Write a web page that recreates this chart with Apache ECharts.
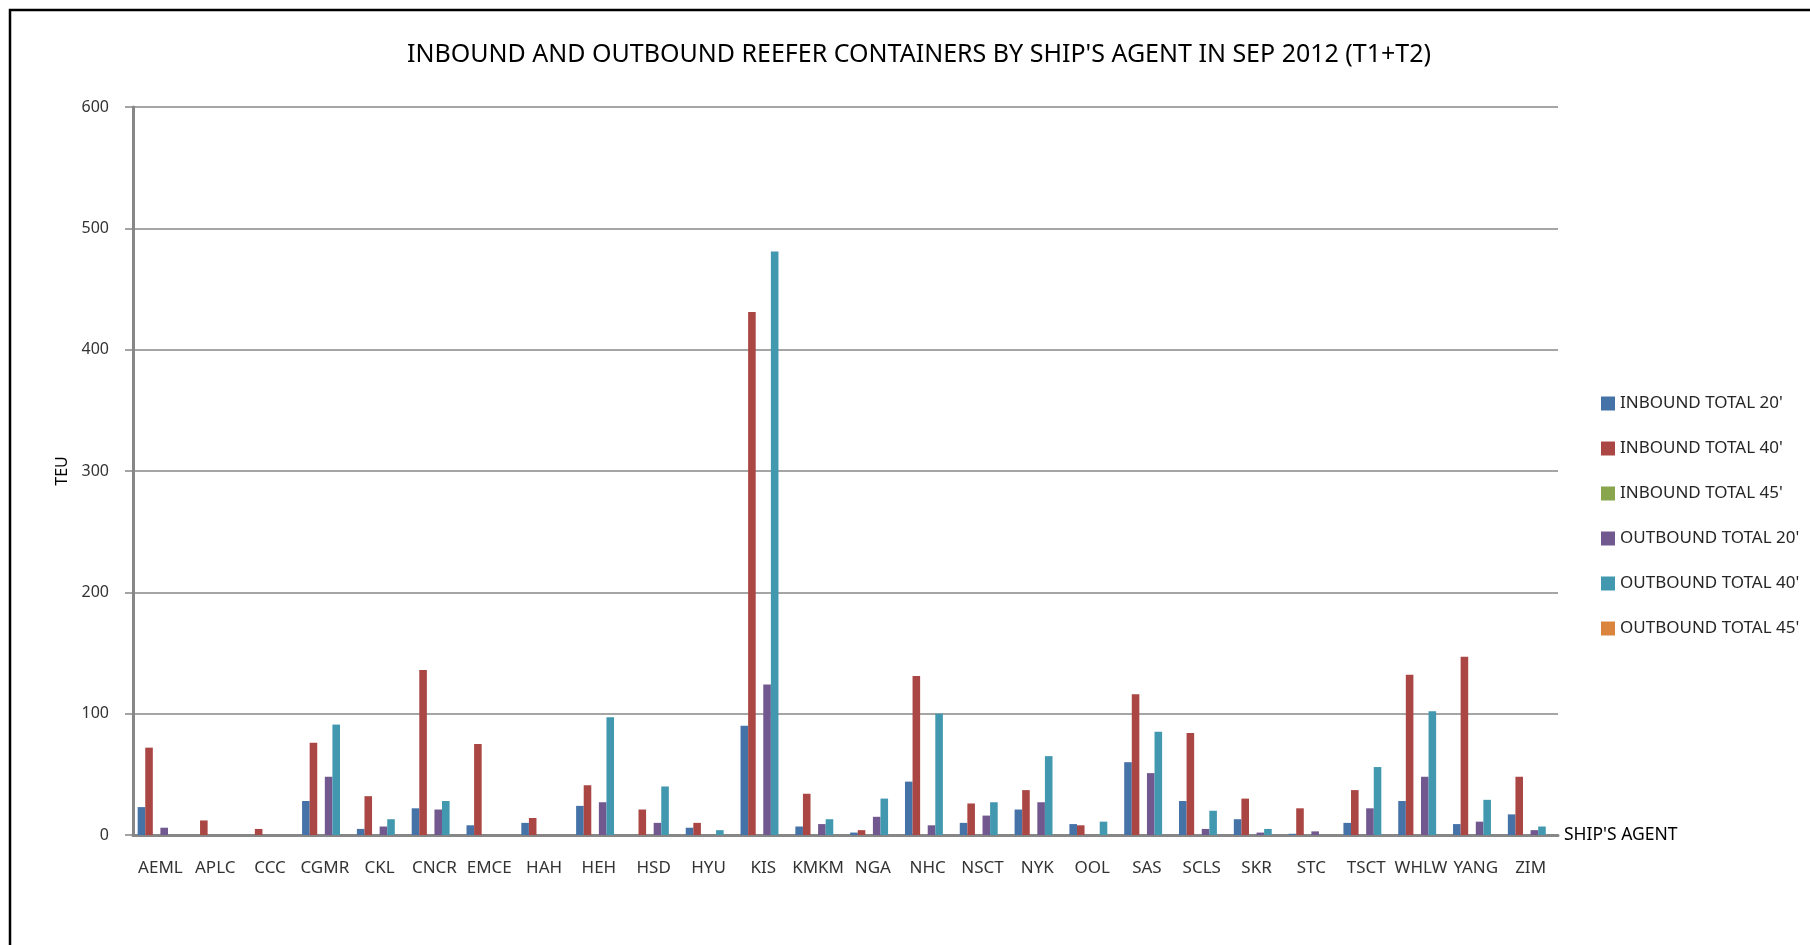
<!DOCTYPE html>
<html>
<head>
<meta charset="utf-8">
<title>Reefer containers by ship's agent, Sep 2012</title>
<script src="https://cdn.jsdelivr.net/npm/echarts@6/dist/echarts.min.js"></script>
<style>
  html, body { margin: 0; padding: 0; background: #ffffff; }
  #chart { width: 1810px; height: 945px; }
</style>
</head>
<body>
<div id="chart"></div>
<script>
// Ship's agents (x-axis categories)
const agents = ['AEML', 'APLC', 'CCC', 'CGMR', 'CKL', 'CNCR', 'EMCE', 'HAH', 'HEH', 'HSD',
  'HYU', 'KIS', 'KMKM', 'NGA', 'NHC', 'NSCT', 'NYK', 'OOL', 'SAS', 'SCLS',
  'SKR', 'STC', 'TSCT', 'WHLW', 'YANG', 'ZIM'];

// TEU per agent, one array per series
const inbound20 = [23, 0, 0, 28, 5, 22, 8, 10, 24, 0, 6, 90, 7, 2, 44, 10, 21, 9, 60, 28, 13, 1, 10, 28, 9, 17];
const inbound40 = [72, 12, 5, 76, 32, 136, 75, 14, 41, 21, 10, 431, 34, 4, 131, 26, 37, 8, 116, 84, 30, 22, 37, 132, 147, 48];
const inbound45 = [0, 0, 0, 0, 0, 0, 0, 0, 0, 0, 0, 0, 0, 0, 0, 0, 0, 0, 0, 0, 0, 0, 0, 0, 0, 0];
const outbound20 = [6, 0, 0, 48, 7, 21, 0, 0, 27, 10, 0, 124, 9, 15, 8, 16, 27, 0, 51, 5, 2, 3, 22, 48, 11, 4];
const outbound40 = [0, 0, 0, 91, 13, 28, 0, 0, 97, 40, 4, 481, 13, 30, 100, 27, 65, 11, 85, 20, 5, 0, 56, 102, 29, 7];
const outbound45 = [0, 0, 0, 0, 0, 0, 0, 0, 0, 0, 0, 0, 0, 0, 0, 0, 0, 0, 0, 0, 0, 0, 0, 0, 0, 0];

// Y-axis ticks
const yTicks = [0, 100, 200, 300, 400, 500, 600];

const seriesDefs = [
  { name: "INBOUND TOTAL 20'", data: inbound20, color: '#4572A7' },
  { name: "INBOUND TOTAL 40'", data: inbound40, color: '#AA4643' },
  { name: "INBOUND TOTAL 45'", data: inbound45, color: '#89A54E' },
  { name: "OUTBOUND TOTAL 20'", data: outbound20, color: '#71588F' },
  { name: "OUTBOUND TOTAL 40'", data: outbound40, color: '#4198AF' },
  { name: "OUTBOUND TOTAL 45'", data: outbound45, color: '#DB843D' }
];

const FONT = '"Noto Sans", "Open Sans", sans-serif';
const chart = echarts.init(document.getElementById('chart'), null, { renderer: 'canvas' });

chart.setOption({
  animation: false,
  backgroundColor: '#ffffff',
  textStyle: { fontFamily: FONT },
  title: {
    text: "INBOUND AND OUTBOUND REEFER CONTAINERS BY SHIP'S AGENT IN SEP 2012 (T1+T2)",
    left: 914,
    textAlign: 'center',
    top: 37,
    textStyle: { fontFamily: FONT, fontSize: 25, fontWeight: 'normal', color: '#000000' }
  },
  legend: {
    orient: 'vertical',
    left: 1596,
    top: 390,
    itemWidth: 14,
    itemHeight: 14,
    itemGap: 28,
    icon: 'rect',
    textStyle: { fontFamily: FONT, fontSize: 17, color: '#262626' },
    data: seriesDefs.map(s => s.name)
  },
  grid: { left: 133, right: 252, top: 107, bottom: 110, containLabel: false },
  xAxis: {
    type: 'category',
    data: agents,
    name: "SHIP'S AGENT",
    nameLocation: 'end',
    nameGap: 6,
    nameTextStyle: { fontFamily: FONT, fontSize: 17.5, color: '#000000', verticalAlign: 'middle' },
    axisLine: { lineStyle: { color: '#878787', width: 3 } },
    axisTick: { show: false },
    axisLabel: { interval: 0, margin: 25, fontFamily: FONT, fontSize: 17, color: '#333333' },
    splitLine: { show: false }
  },
  yAxis: {
    type: 'value',
    min: yTicks[0],
    max: yTicks[yTicks.length - 1],
    interval: 100,
    name: 'TEU',
    nameLocation: 'middle',
    nameRotate: 90,
    nameGap: 63,
    nameTextStyle: { fontFamily: FONT, fontSize: 16, color: '#000000' },
    axisLine: { show: true, lineStyle: { color: '#878787', width: 3 } },
    axisTick: { show: true, length: 8, lineStyle: { color: '#878787', width: 1.5 } },
    axisLabel: { margin: 24, fontFamily: FONT, fontSize: 16, color: '#333333' },
    splitLine: { show: true, lineStyle: { color: '#878787', width: 1.5 } }
  },
  series: seriesDefs.map(s => ({
    name: s.name,
    type: 'bar',
    data: s.data,
    barGap: '0%',
    barCategoryGap: '17%',
    itemStyle: { color: s.color },
    emphasis: { disabled: true }
  })),
  graphic: [{
    type: 'rect',
    z: 100,
    silent: true,
    shape: { x: 10, y: 10, width: 1900, height: 1000 },
    style: { fill: 'none', stroke: '#000000', lineWidth: 2.5 }
  }]
});
</script>
</body>
</html>
